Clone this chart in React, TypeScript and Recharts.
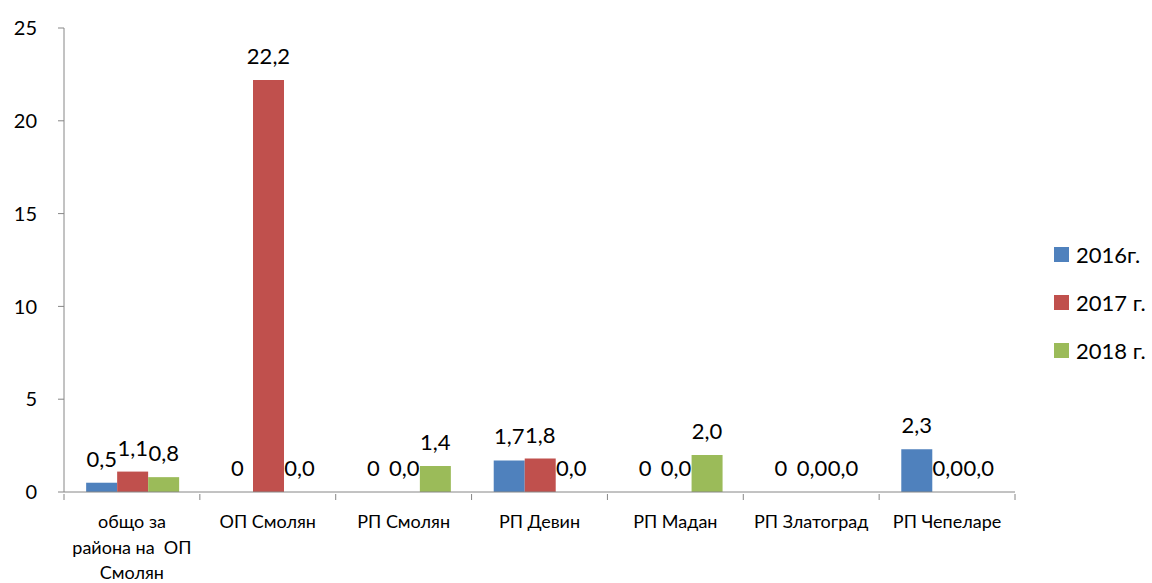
import { Bar, BarChart, LabelList, XAxis, YAxis } from 'recharts';

const categories = ['общо за района на  ОП Смолян', 'ОП Смолян', 'РП Смолян', 'РП Девин', 'РП Мадан', 'РП Златоград', 'РП Чепеларе'];
const tickLabels = [['общо за', 'района на  ОП', 'Смолян'], ['ОП Смолян'], ['РП Смолян'], ['РП Девин'], ['РП Мадан'], ['РП Златоград'], ['РП Чепеларе']];
const values2016 = [0.5, 0, 0, 1.7, 0, 0, 2.3];
const values2017 = [1.1, 22.2, 0, 1.8, 0, 0, 0];
const values2018 = [0.8, 0, 1.4, 0, 2.0, 0, 0];
const yTicks = [0, 5, 10, 15, 20, 25];

const series = [
  { key: 'y2016', name: '2016г.', color: '#4F81BD', zeroAsInt: true },
  { key: 'y2017', name: '2017 г.', color: '#C0504D', zeroAsInt: false },
  { key: 'y2018', name: '2018 г.', color: '#9BBB59', zeroAsInt: false },
];

const data = categories.map((name, i) => ({
  name,
  y2016: values2016[i],
  y2017: values2017[i],
  y2018: values2018[i],
}));

const FONT = 'Lato, "Open Sans", sans-serif';
const AXIS = '#868686';
const W = 1152;
const H = 583;
const MARGIN = { top: 28, right: 137, bottom: 0, left: 14 };
const Y_WIDTH = 50;
const BAND = (W - MARGIN.left - MARGIN.right - Y_WIDTH) / categories.length;

const fmt = (zeroAsInt: boolean) => (v: any) => {
  const n = Number(v);
  if (zeroAsInt && n === 0) return '0';
  return n.toFixed(1).replace('.', ',');
};

const CategoryTick = (props: any) => {
  const { x, y, payload, index } = props;
  const i0 = payload.index ?? index;
  const lines = tickLabels[i0] ?? [String(payload.value)];
  const top = y - 6;
  return (
    <g>
      <line x1={x - BAND / 2} x2={x - BAND / 2} y1={top} y2={top + 6} stroke={AXIS} />
      {i0 === categories.length - 1 && (
        <line x1={x + BAND / 2} x2={x + BAND / 2} y1={top} y2={top + 6} stroke={AXIS} />
      )}
      <text x={x} y={y + 28} textAnchor="middle" fontSize={18} fontFamily={FONT} fill="#000" style={{ whiteSpace: 'pre' }}>
        {lines.map((l, i) => (
          <tspan key={i} x={x} dy={i === 0 ? 0 : 25.5}>
            {l}
          </tspan>
        ))}
      </text>
    </g>
  );
};

export default function App() {
  return (
    <div style={{ position: 'absolute', left: 0, top: 0, width: W, height: H, background: '#fff' }}>
      <BarChart width={W} height={H} data={data} margin={MARGIN} barCategoryGap="16.3%" barGap={0}>
        <XAxis
          dataKey="name"
          interval={0}
          tick={<CategoryTick />}
          tickLine={false}
          axisLine={{ stroke: AXIS }}
          height={91}
        />
        <YAxis
          domain={[0, 25]}
          ticks={yTicks}
          interval={0}
          width={Y_WIDTH}
          tickSize={6}
          tickMargin={21}
          axisLine={{ stroke: AXIS }}
          tickLine={{ stroke: AXIS }}
          tick={{ fontSize: 20, fontFamily: FONT, fill: '#000' }}
        />
        {series.map((s) => (
          <Bar key={s.key} dataKey={s.key} name={s.name} fill={s.color} minPointSize={0.01} isAnimationActive={false}>
            <LabelList
              dataKey={s.key}
              position="top"
              offset={16}
              formatter={fmt(s.zeroAsInt)}
              style={{ fontSize: 22, fontFamily: FONT, fill: '#000' }}
            />
          </Bar>
        ))}
      </BarChart>
      <div style={{ position: 'absolute', left: 1054, top: 230, width: 98, fontFamily: FONT, fontSize: 22, color: '#000' }}>
        {series.map((s) => (
          <div key={s.key} style={{ display: 'flex', alignItems: 'center', height: 48 }}>
            <span style={{ width: 15, height: 15, background: s.color, marginRight: 7, display: 'inline-block' }} />
            <span>{s.name}</span>
          </div>
        ))}
      </div>
    </div>
  );
}
